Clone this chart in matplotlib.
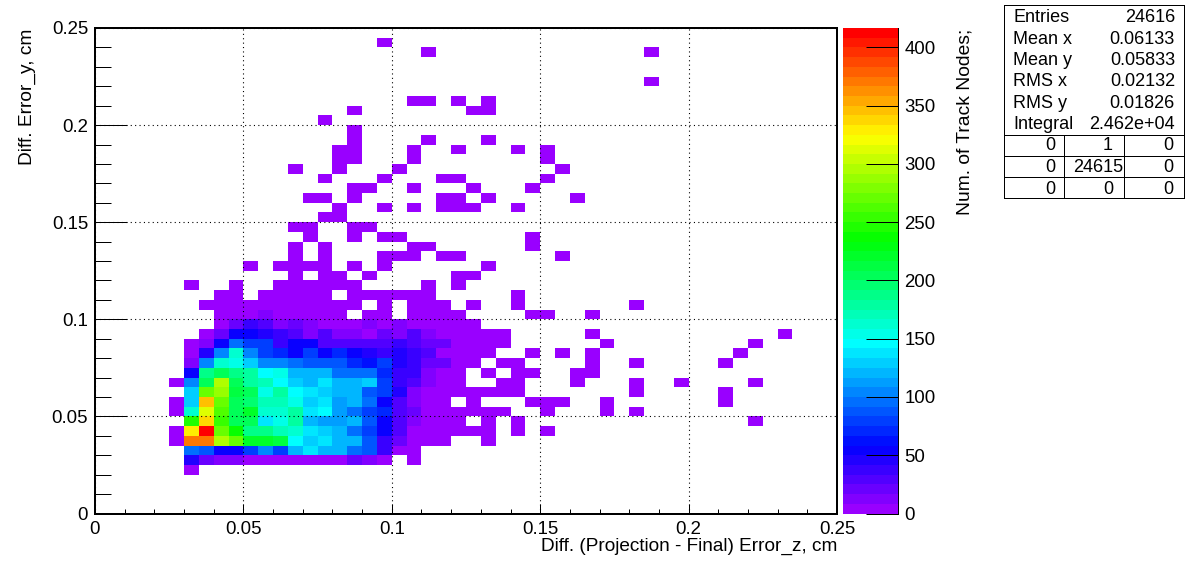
import colorsys
import numpy as np
import matplotlib
matplotlib.use("Agg")
import matplotlib.pyplot as plt
from matplotlib.colors import ListedColormap, BoundaryNorm

plt.rcParams['font.family'] = ['Liberation Sans', 'DejaVu Sans']

W, H = 1196, 572
N_BINS = 50
AXIS_MAX = 0.25
Z_MAX = 416.7

x_label = "Diff. (Projection - Final) Error_z, cm"
y_label = "Diff. Error_y, cm"
z_label = "Num. of Track Nodes;"
x_ticks = [0, 0.05, 0.1, 0.15, 0.2, 0.25]
x_tick_labels = ["0", "0.05", "0.1", "0.15", "0.2", "0.25"]
z_ticks = [0, 50, 100, 150, 200, 250, 300, 350, 400]

stat_names = ["Entries", "Mean x", "Mean y", "RMS x", "RMS y", "Integral"]
stat_values = ["24616", "0.06133", "0.05833", "0.02132", "0.01826", "2.462e+04"]
overflow_table = [["0", "1", "0"], ["0", "24615", "0"], ["0", "0", "0"]]

# dense part of the histogram: y bin -> counts for x bins 5..23
dense_first_bin = 5
dense_rows = {
    4:  [0, 1, 0, 0, 0, 0, 0, 0, 0, 0, 0, 0, 0, 0, 0, 0, 0, 0, 0],
    5:  [0, 45, 25, 10, 10, 8, 8, 8, 3, 3, 4, 8, 22, 10, 5, 0, 1, 0, 0],
    6:  [0, 95, 85, 58, 55, 78, 103, 78, 122, 135, 122, 122, 95, 85, 40, 8, 1, 0, 0],
    7:  [2, 367, 375, 298, 271, 217, 217, 212, 145, 127, 140, 122, 122, 85, 36, 22, 3, 3, 3],
    8:  [2, 326, 416, 271, 235, 185, 185, 170, 163, 135, 127, 122, 100, 80, 54, 27, 3, 3, 3],
    9:  [0, 248, 335, 253, 208, 208, 135, 153, 181, 122, 113, 113, 122, 90, 58, 27, 14, 3, 3],
    10: [2, 160, 316, 262, 208, 222, 163, 163, 176, 135, 145, 113, 100, 80, 72, 27, 18, 3, 3],
    11: [2, 127, 344, 275, 208, 199, 170, 170, 153, 127, 140, 113, 122, 100, 54, 32, 14, 3, 3],
    12: [0, 127, 275, 285, 212, 204, 153, 181, 145, 135, 127, 122, 122, 90, 80, 45, 14, 3, 3],
    13: [2, 103, 204, 295, 204, 181, 170, 145, 127, 117, 140, 122, 122, 130, 80, 36, 27, 14, 3],
    14: [0, 54, 185, 208, 185, 176, 145, 158, 122, 122, 122, 100, 95, 95, 72, 40, 36, 14, 3],
    15: [0, 14, 108, 165, 153, 127, 108, 108, 100, 90, 90, 90, 72, 63, 80, 45, 36, 22, 18],
    16: [0, 2, 45, 108, 165, 108, 78, 68, 58, 78, 54, 72, 54, 45, 36, 50, 36, 27, 3],
    17: [0, 2, 12, 54, 95, 78, 78, 36, 54, 54, 32, 32, 32, 27, 32, 36, 27, 18, 18],
    18: [0, 0, 2, 22, 54, 54, 45, 36, 32, 15, 27, 14, 14, 8, 18, 10, 27, 14, 3],
    19: [0, 0, 0, 3, 18, 36, 30, 14, 18, 15, 8, 8, 4, 10, 4, 14, 3, 3, 3],
    20: [0, 0, 0, 1, 3, 8, 10, 8, 3, 3, 3, 3, 0, 2, 2, 0, 2, 2, 2],
    21: [0, 0, 1, 2, 2, 2, 2, 2, 2, 2, 2, 2, 2, 0, 1, 0, 1, 1, 1],
}

# sparse part: y bin -> x bins holding a very low count
sparse_count = 1
sparse_rows = {
    7:  [26],
    8:  [24, 25, 26, 28, 30],
    9:  [24, 26, 28, 44],
    10: [24, 25, 26, 27, 30, 34, 36],
    11: [25, 29, 30, 31, 34, 42],
    12: [24, 25, 26, 27, 28, 36, 42],
    13: [24, 27, 28, 32, 36, 39, 44],
    14: [24, 26, 28, 29, 32, 33],
    15: [24, 25, 27, 28, 33, 36, 42],
    16: [24, 25, 26, 29, 31, 33, 43],
    17: [24, 25, 26, 27, 34, 44],
    18: [24, 25, 26, 27, 33, 46],
    19: [24, 25],
    20: [24, 29, 30, 33],
    21: [25, 28, 36],
    22: [8, 9, 11, 12, 13, 14, 15, 17, 18, 19, 20, 21, 22, 28],
    23: [6, 9, 12, 13, 14, 15, 16, 17, 22, 24],
    24: [13, 15, 16, 18, 24, 25],
    25: [10, 12, 13, 14, 15, 17, 19, 26],
    26: [13, 15, 19, 20, 21, 23, 24, 31],
    27: [13, 15, 21, 22, 29],
    28: [14, 17, 19, 20, 29],
    29: [13, 14, 17, 18],
    30: [15, 16],
    31: [16, 19, 21, 23, 24, 25, 28],
    32: [14, 15, 17, 23, 24, 26, 32],
    33: [17, 18, 21, 25, 29],
    34: [15, 19, 23, 24, 30],
    35: [13, 16, 20, 31],
    36: [16, 17, 21, 30],
    37: [16, 17, 21, 24, 28, 30],
    38: [17, 22, 26],
    39: [17],
    40: [15],
    41: [17, 25, 26],
    42: [21, 22, 24, 26],
    44: [37],
    47: [22, 37],
    48: [19],
}

counts = np.zeros((N_BINS, N_BINS))
for iy, row in dense_rows.items():
    counts[iy, dense_first_bin:dense_first_bin + len(row)] = row
for iy, bins in sparse_rows.items():
    counts[iy, bins] = sparse_count
edges = np.linspace(0, AXIS_MAX, N_BINS + 1)

# ROOT rainbow palette: 50 steps of hue from violet to red
n_levels = 50
palette = [colorsys.hsv_to_rgb((276 / 360) * (1 - i / (n_levels - 1)), 1, 1) for i in range(n_levels)]
cmap = ListedColormap(palette)
norm = BoundaryNorm(np.linspace(0, Z_MAX, n_levels + 1), n_levels)


def px_rect(x0, y0, x1, y1):
    return [x0 / W, 1 - y1 / H, (x1 - x0) / W, (y1 - y0) / H]


def pt(px):
    return px * 0.72


fig = plt.figure(figsize=(W / 100, H / 100), dpi=100)
ax = fig.add_axes(px_rect(95, 28, 837, 513.5))
mesh = ax.pcolormesh(edges, edges, np.ma.masked_equal(counts, 0), cmap=cmap, norm=norm,
                     shading="flat", linewidth=0, antialiased=False, zorder=1)
ax.set_xlim(0, AXIS_MAX)
ax.set_ylim(0, AXIS_MAX)
ax.set_xticks(x_ticks)
ax.set_xticklabels(x_tick_labels)
ax.set_yticks(x_ticks)
ax.set_yticklabels(x_tick_labels)
ax.set_xticks(np.arange(0, 0.2501, 0.01), minor=True)
ax.set_yticks(np.arange(0, 0.2501, 0.01), minor=True)
ax.grid(True, which="major", color="black", linestyle=(0, (1, 3)), linewidth=pt(1.1))
ax.set_axisbelow(False)
ax.tick_params(axis="x", which="major", direction="in", length=pt(10), width=pt(1), labelsize=13.4, pad=5.5)
ax.tick_params(axis="x", which="minor", direction="in", length=pt(5.5), width=pt(1))
ax.tick_params(axis="y", which="major", direction="in", length=pt(32), width=pt(1), labelsize=13.4, pad=5)
ax.tick_params(axis="y", which="minor", direction="in", length=pt(16), width=pt(1))
for s in ax.spines.values():
    s.set_linewidth(pt(2))
fig.text(837 / W, 1 - 546 / H, x_label, ha="right", va="center", fontsize=13.7)
fig.text(27.5 / W, 1 - 29 / H, y_label, ha="center", va="top", rotation=90, fontsize=13.8)

cax = fig.add_axes(px_rect(843, 28, 897.5, 513.5))
cb = fig.colorbar(mesh, cax=cax, ticks=z_ticks, drawedges=False)
cb.outline.set_visible(False)
cb.ax.minorticks_off()
cb.ax.spines["right"].set_visible(True)
cb.ax.spines["right"].set_linewidth(pt(1))
cb.ax.tick_params(direction="in", length=pt(32), width=pt(1), labelsize=13.4, pad=5, right=True)
fig.text(965.5 / W, 1 - 29 / H, z_label, ha="center", va="top", rotation=90, fontsize=13.9)

# statistics box
box = fig.add_axes(px_rect(1004, 5, 1184, 198))
box.set_xlim(1004, 1184)
box.set_ylim(198, 5)
box.set_xticks([])
box.set_yticks([])
for s in box.spines.values():
    s.set_linewidth(pt(1))
row_y = [18, 39, 60.5, 82, 103, 124.5]
for y, name, value in zip(row_y, stat_names, stat_values):
    box.text(1013.5, y, name, ha="left", va="center", fontsize=13)
    box.text(1175, y, value, ha="right", va="center", fontsize=13)
for y in (134.5, 155.5, 177):
    box.plot([1004, 1184], [y, y], color="black", lw=pt(1))
for x in (1064, 1124):
    box.plot([x, x], [134.5, 198], color="black", lw=pt(1))
table_y = [146, 167, 189]
table_x = [1055, 1113, 1173]
for y, row in zip(table_y, overflow_table):
    for x, cell in zip(table_x, row):
        box.text(x + (10 if len(cell) > 1 else 0), y, cell, ha="right", va="center", fontsize=13)

fig.savefig("out.png", dpi=100, facecolor="white")
